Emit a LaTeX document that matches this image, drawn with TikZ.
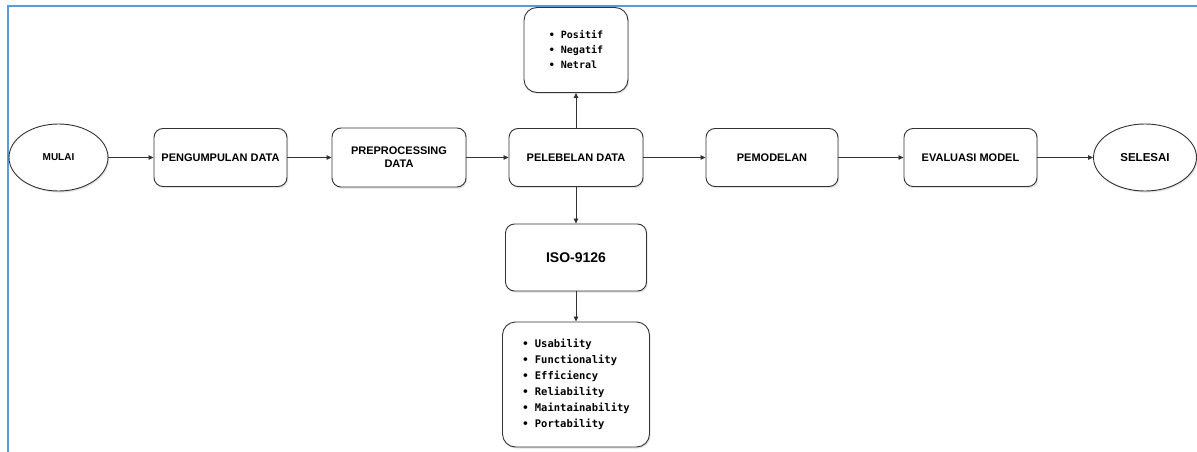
\documentclass[tikz,border=0pt]{standalone}
\usepackage{fontspec}
\setmainfont{Liberation Sans}
\newfontfamily\listfont{DejaVu Sans Mono}
\usetikzlibrary{shapes.geometric,arrows.meta,shadows}
\definecolor{frameblue}{HTML}{5B9BD5}
\definecolor{linegray}{HTML}{333333}
\tikzset{
  shadowed/.style={drop shadow={opacity=0.22,shadow xshift=1.2pt,shadow yshift=-1.6pt}},
  procbox/.style={draw=linegray,line width=0.9pt,rounded corners=9pt,fill=white,shadowed,
    align=center,inner sep=0pt,font=\bfseries\fontsize{11}{13}\selectfont},
  termnode/.style={draw=linegray,line width=0.9pt,ellipse,fill=white,shadowed,
    inner sep=0pt,font=\bfseries},
  listbox/.style={draw=linegray,line width=0.9pt,rounded corners=13pt,fill=white,shadowed,
    align=left,inner sep=0pt},
  flow/.style={draw=linegray,line width=0.8pt,-{Triangle[length=5pt,width=4.5pt]}},
  frame/.style={draw=frameblue,line width=2pt}
}
\begin{document}
\begin{tikzpicture}[x=1pt,y=-1pt]
\useasboundingbox (0,0) rectangle (1197,452);
\draw[frame] (1197,6) -- (8,6) -- (8,452);

\node[termnode,minimum width=99pt,minimum height=67pt,font=\bfseries\fontsize{10}{12}\selectfont] (mulai) at (58.5,157.5) {MULAI};
\node[procbox,minimum width=133pt,minimum height=58pt] (peng) at (220.5,157.5) {PENGUMPULAN DATA};
\node[procbox,minimum width=134pt,minimum height=59pt] (prep) at (399,157.5) {PREPROCESSING\\DATA};
\node[procbox,minimum width=134pt,minimum height=58pt] (pel) at (576,157.5) {PELEBELAN DATA};
\node[procbox,minimum width=132pt,minimum height=58pt] (pem) at (772,157.5) {PEMODELAN};
\node[procbox,minimum width=133pt,minimum height=58pt] (eval) at (970.5,157.5) {EVALUASI MODEL};
\node[termnode,minimum width=103pt,minimum height=67pt,font=\bfseries\fontsize{11.5}{14}\selectfont] (selesai) at (1145,157.5) {SELESAI};

\node[listbox,minimum width=104pt,minimum height=85pt,font=\listfont\bfseries\fontsize{10}{15}\selectfont] (sent) at (576,50)
  {\textbullet\ Positif\\ \textbullet\ Negatif\\ \textbullet\ Netral};
\node[procbox,minimum width=141pt,minimum height=67pt,font=\bfseries\fontsize{14}{16}\selectfont] (iso) at (576,257.5) {ISO-9126};
\node[listbox,minimum width=147pt,minimum height=125pt,font=\listfont\bfseries\fontsize{10.5}{16}\selectfont] (qual) at (576,384.5)
  {\textbullet\ Usability\\ \textbullet\ Functionality\\ \textbullet\ Efficiency\\
   \textbullet\ Reliability\\ \textbullet\ Maintainability\\ \textbullet\ Portability};

\draw[flow] (mulai) -- (peng);
\draw[flow] (peng) -- (prep);
\draw[flow] (prep) -- (pel);
\draw[flow] (pel) -- (pem);
\draw[flow] (pem) -- (eval);
\draw[flow] (eval) -- (selesai);
\draw[flow] (pel) -- (sent);
\draw[flow] (pel) -- (iso);
\draw[flow] (iso) -- (qual);
\end{tikzpicture}
\end{document}
